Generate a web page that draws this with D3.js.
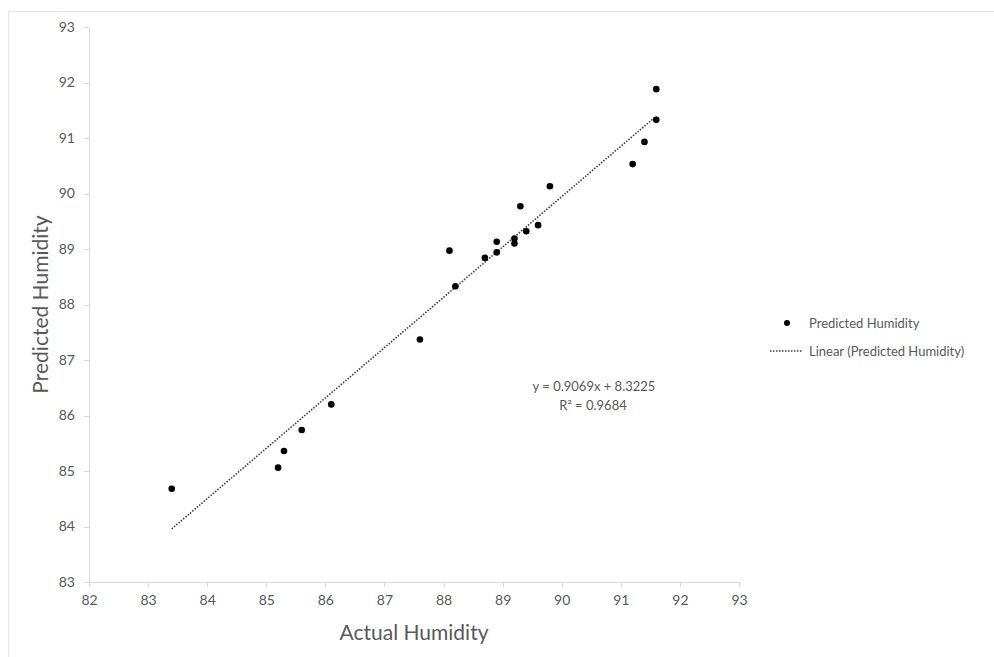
<!DOCTYPE html>
<html lang="en">
<head>
<meta charset="utf-8">
<title>Predicted vs Actual Humidity</title>
<script src="https://cdn.jsdelivr.net/npm/d3@7"></script>
<style>
    body{
      margin: 0;
      background: #fff;
    }
    svg text{
      font-family: Lato, "Open Sans", sans-serif;
      fill: #595959;
    }
    .axis path, .axis line{
      stroke: #d9d9d9;
      shape-rendering: crispEdges;
    }
    .axis text{
      font-size: 14px;
    }
</style>
</head>
<body>
<svg width="994" height="657"></svg>
<script>
// values
var actual    = [83.4, 85.2, 85.3, 85.6, 86.1, 87.6, 88.1, 88.2, 88.7, 88.9, 88.9, 89.2, 89.2, 89.3, 89.4, 89.6, 89.8, 91.2, 91.4, 91.6, 91.6];
var predicted = [84.68, 85.06, 85.36, 85.74, 86.20, 87.37, 88.97, 88.33, 88.84, 89.13, 88.94, 89.19, 89.10, 89.77, 89.32, 89.43, 90.13, 90.53, 90.93, 91.88, 91.33];
var slope = 0.9069, intercept = 8.3225, r2 = 0.9684;
var xTicks = [82, 83, 84, 85, 86, 87, 88, 89, 90, 91, 92, 93];
var yTicks = [83, 84, 85, 86, 87, 88, 89, 90, 91, 92, 93];

var points = actual.map(function(a, i) { return {x: a, y: predicted[i]}; });

var svg = d3.select("svg");
var plotL = 89, plotR = 739, plotT = 27, plotB = 582;

var x = d3.scaleLinear().domain([82, 93]).range([plotL, plotR]);
var y = d3.scaleLinear().domain([83, 93]).range([plotB, plotT]);

// chart frame (top and left edges only visible)
svg.append("line").attr("x1", 8).attr("x2", 994).attr("y1", 11.5).attr("y2", 11.5)
  .attr("stroke", "#e6e6e6");
svg.append("line").attr("x1", 8.5).attr("x2", 8.5).attr("y1", 11).attr("y2", 657)
  .attr("stroke", "#e6e6e6");

svg.append("g")
  .attr("class", "axis")
  .attr("transform", "translate(0," + plotB + ")")
  .call(d3.axisBottom(x).tickValues(xTicks).tickSize(5).tickPadding(8).tickSizeOuter(0))
  .call(function(g) { g.select(".domain").attr("stroke", "#d9d9d9"); });

svg.append("g")
  .attr("class", "axis")
  .attr("transform", "translate(" + plotL + ",0)")
  .call(d3.axisLeft(y).tickValues(yTicks).tickSize(5).tickPadding(9).tickSizeOuter(0))
  .call(function(g) { g.select(".domain").attr("stroke", "#d9d9d9"); });

svg.selectAll(".axis text").attr("fill", "#595959");

// linear trendline over the data's range
var xMin = d3.min(actual), xMax = d3.max(actual);
svg.append("line")
  .attr("x1", x(xMin)).attr("y1", y(slope * xMin + intercept))
  .attr("x2", x(xMax)).attr("y2", y(slope * xMax + intercept))
  .attr("stroke", "#404040")
  .attr("stroke-width", 1.6)
  .attr("stroke-dasharray", "1.5,1.5");

svg.selectAll(".dot")
  .data(points)
  .enter()
  .append("circle")
  .attr("class", "dot")
  .attr("cx", function(d) { return x(d.x); })
  .attr("cy", function(d) { return y(d.y); })
  .attr("r", 3.3)
  .attr("fill", "#000");

// trendline equation
svg.append("text").attr("x", 594).attr("y", 391).attr("text-anchor", "middle")
  .style("font-size", "13px").text("y = " + slope + "x + " + intercept);
svg.append("text").attr("x", 593).attr("y", 410).attr("text-anchor", "middle")
  .style("font-size", "13px").text("R² = " + r2);

// axis titles
svg.append("text").attr("x", (plotL + plotR) / 2).attr("y", 640).attr("text-anchor", "middle")
  .style("font-size", "21px").text("Actual Humidity");
svg.append("text").attr("transform", "translate(48," + (plotT + plotB) / 2 + ") rotate(-90)")
  .attr("text-anchor", "middle").style("font-size", "21px").text("Predicted Humidity");

// legend
var lg = svg.append("g");
lg.append("circle").attr("cx", 787).attr("cy", 323).attr("r", 3).attr("fill", "#000");
lg.append("text").attr("x", 809).attr("y", 328).style("font-size", "13px").text("Predicted Humidity");
lg.append("line").attr("x1", 770).attr("x2", 803).attr("y1", 351).attr("y2", 351)
  .attr("stroke", "#404040").attr("stroke-width", 1.4).attr("stroke-dasharray", "1.5,1.5");
lg.append("text").attr("x", 809).attr("y", 356).style("font-size", "13px").text("Linear (Predicted Humidity)");
</script>
</body>
</html>
